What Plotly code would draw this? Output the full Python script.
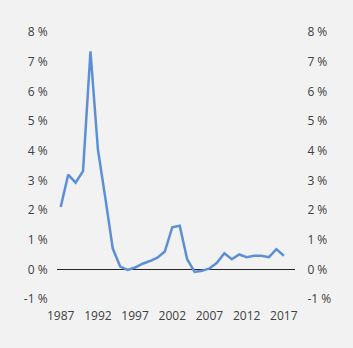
import plotly.graph_objects as go

years = list(range(1987, 2018))
values = [2.10, 3.19, 2.92, 3.31, 7.35, 4.04, 2.40, 0.70, 0.09, -0.02,
          0.06, 0.19, 0.28, 0.39, 0.60, 1.42, 1.47, 0.34, -0.09, -0.05,
          0.03, 0.22, 0.54, 0.34, 0.50, 0.41, 0.46, 0.46, 0.41, 0.68, 0.46]
y_tickvals = [-1, 0, 1, 2, 3, 4, 5, 6, 7, 8]
y_ticktext = ["-1 %", "0 %", "1 %", "2 %", "3 %", "4 %", "5 %", "6 %", "7 %", "8 %"]
x_tickvals = [1987, 1992, 1997, 2002, 2007, 2012, 2017]

bg = "#f2f2f2"
font = dict(family="Open Sans", size=12, color="#404040")

fig = go.Figure()
fig.add_trace(go.Scatter(x=years, y=values, mode="lines",
                         line=dict(color="#5b8fd6", width=2.5),
                         showlegend=False, hoverinfo="skip"))
fig.add_trace(go.Scatter(x=years, y=values, mode="lines", yaxis="y2",
                         line=dict(color="rgba(0,0,0,0)", width=0),
                         showlegend=False, hoverinfo="skip"))

fig.update_layout(
    width=353, height=348,
    margin=dict(l=57, r=58, t=32, b=49),
    paper_bgcolor=bg, plot_bgcolor=bg,
    font=font,
    xaxis=dict(range=[1986.5, 2018.5], tickvals=x_tickvals,
               showgrid=False, zeroline=False, showline=False,
               ticks="outside", ticklen=6, tickcolor=bg, tickfont=font),
    yaxis=dict(range=[-1, 8], tickvals=y_tickvals, ticktext=y_ticktext,
               showgrid=False, zeroline=True, zerolinecolor="#262626",
               zerolinewidth=1, showline=False,
               ticks="outside", ticklen=6, tickcolor=bg, tickfont=font),
    yaxis2=dict(range=[-1, 8], tickvals=y_tickvals, ticktext=y_ticktext,
                overlaying="y", side="right", showgrid=False,
                zeroline=False, showline=False,
                ticks="outside", ticklen=9, tickcolor=bg, tickfont=font),
)

fig.write_html("out.html")
